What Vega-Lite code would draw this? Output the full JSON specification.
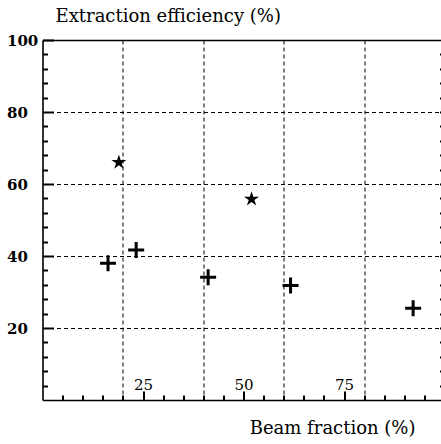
{
  "$schema": "https://vega.github.io/schema/vega-lite/v6.json",
  "padding": {"left": 0.5, "top": 7, "right": 0, "bottom": 0},
  "width": 402,
  "height": 360,
  "config": {
    "view": {"stroke": null},
    "font": "DejaVu Serif",
    "axis": {"domainColor": "black", "domainWidth": 1.6, "tickColor": "black", "labelColor": "black", "titleColor": "black"}
  },
  "data": {"values": [
    {"beam": 16.3, "eff": 38.0, "marker": "plus"},
    {"beam": 23.3, "eff": 41.7, "marker": "plus"},
    {"beam": 41.2, "eff": 34.1, "marker": "plus"},
    {"beam": 61.7, "eff": 31.8, "marker": "plus"},
    {"beam": 92.2, "eff": 25.5, "marker": "plus"},
    {"beam": 19.0, "eff": 66.0, "marker": "star"},
    {"beam": 52.0, "eff": 55.8, "marker": "star"}
  ]},
  "resolve": {"axis": {"x": "independent", "y": "independent"}},
  "layer": [
    {
      "transform": [{"filter": "datum.marker === 'plus'"}],
      "mark": {"type": "point", "shape": "M-1,0H1M0,-1V1", "filled": false, "stroke": "black", "strokeWidth": 3, "size": 256, "opacity": 1},
      "encoding": {
        "x": {"field": "beam", "type": "quantitative", "scale": {"domain": [0, 100], "nice": false, "zero": false},
              "axis": {"orient": "bottom", "domain": true, "values": [5, 10, 15, 20, 25, 30, 35, 40, 45, 50, 55, 60, 65, 70, 75, 80, 85, 90, 95],
                       "ticks": true, "tickWidth": 2, "tickSize": {"condition": {"test": "datum.value % 25 === 0", "value": -9}, "value": -5},
                       "labelExpr": "datum.value % 25 === 0 ? datum.label : ''", "labelPadding": -2, "labelBaseline": "alphabetic", "labelFontSize": 15, "labelFlush": false, "labelOverlap": false,
                       "grid": true, "gridColor": "black", "gridDash": [4, 3], "gridWidth": 1,
                       "gridOpacity": {"condition": {"test": "datum.value % 20 === 0", "value": 1}, "value": 0},
                       "title": "Beam fraction (%)", "titleFontSize": 18, "titleFontWeight": "normal", "titleAlign": "right", "titleAnchor": null, "titleX": 372.5, "titleY": 33, "titleBaseline": "alphabetic"}},
        "y": {"field": "eff", "type": "quantitative", "scale": {"domain": [0, 100], "nice": false, "zero": false},
              "axis": {"orient": "left", "domain": true, "values": [4, 8, 12, 16, 20, 24, 28, 32, 36, 40, 44, 48, 52, 56, 60, 64, 68, 72, 76, 80, 84, 88, 92, 96, 100],
                       "ticks": true, "tickWidth": 2, "tickSize": {"condition": {"test": "datum.value % 20 === 0", "value": -11}, "value": -5},
                       "labelExpr": "datum.value % 20 === 0 ? datum.label : ''", "labelAlign": "left", "labelPadding": 47, "labelFontSize": 15, "labelFontWeight": "bold", "labelOverlap": false,
                       "grid": true, "gridColor": "black", "gridDash": [4, 3], "gridWidth": 1,
                       "gridOpacity": {"condition": {"test": "datum.value % 20 === 0 && datum.value < 100", "value": 1}, "value": 0},
                       "title": "Extraction efficiency (%)", "titleAngle": 0, "titleAlign": "left", "titleAnchor": null, "titleX": 12.5, "titleY": -19, "titleBaseline": "alphabetic", "titleFontSize": 18, "titleFontWeight": "normal"}}
      }
    },
    {
      "transform": [{"filter": "datum.marker === 'star'"}],
      "mark": {"type": "point", "shape": "M0,-1L0.22,-0.3L0.951,-0.309L0.356,0.116L0.588,0.809L0,0.375L-0.588,0.809L-0.356,0.116L-0.951,-0.309L-0.22,-0.3Z", "filled": true, "fill": "black", "strokeWidth": 0, "size": 250, "opacity": 1},
      "encoding": {
        "x": {"field": "beam", "type": "quantitative",
              "axis": {"orient": "top", "domain": true, "ticks": false, "labels": false, "grid": false, "title": null}},
        "y": {"field": "eff", "type": "quantitative",
              "axis": {"orient": "right", "domain": true, "values": [4, 8, 12, 16, 20, 24, 28, 32, 36, 40, 44, 48, 52, 56, 60, 64, 68, 72, 76, 80, 84, 88, 92, 96],
                       "ticks": true, "tickSize": -5, "tickWidth": 2, "labels": false, "grid": false, "title": null}}
      }
    }
  ]
}
